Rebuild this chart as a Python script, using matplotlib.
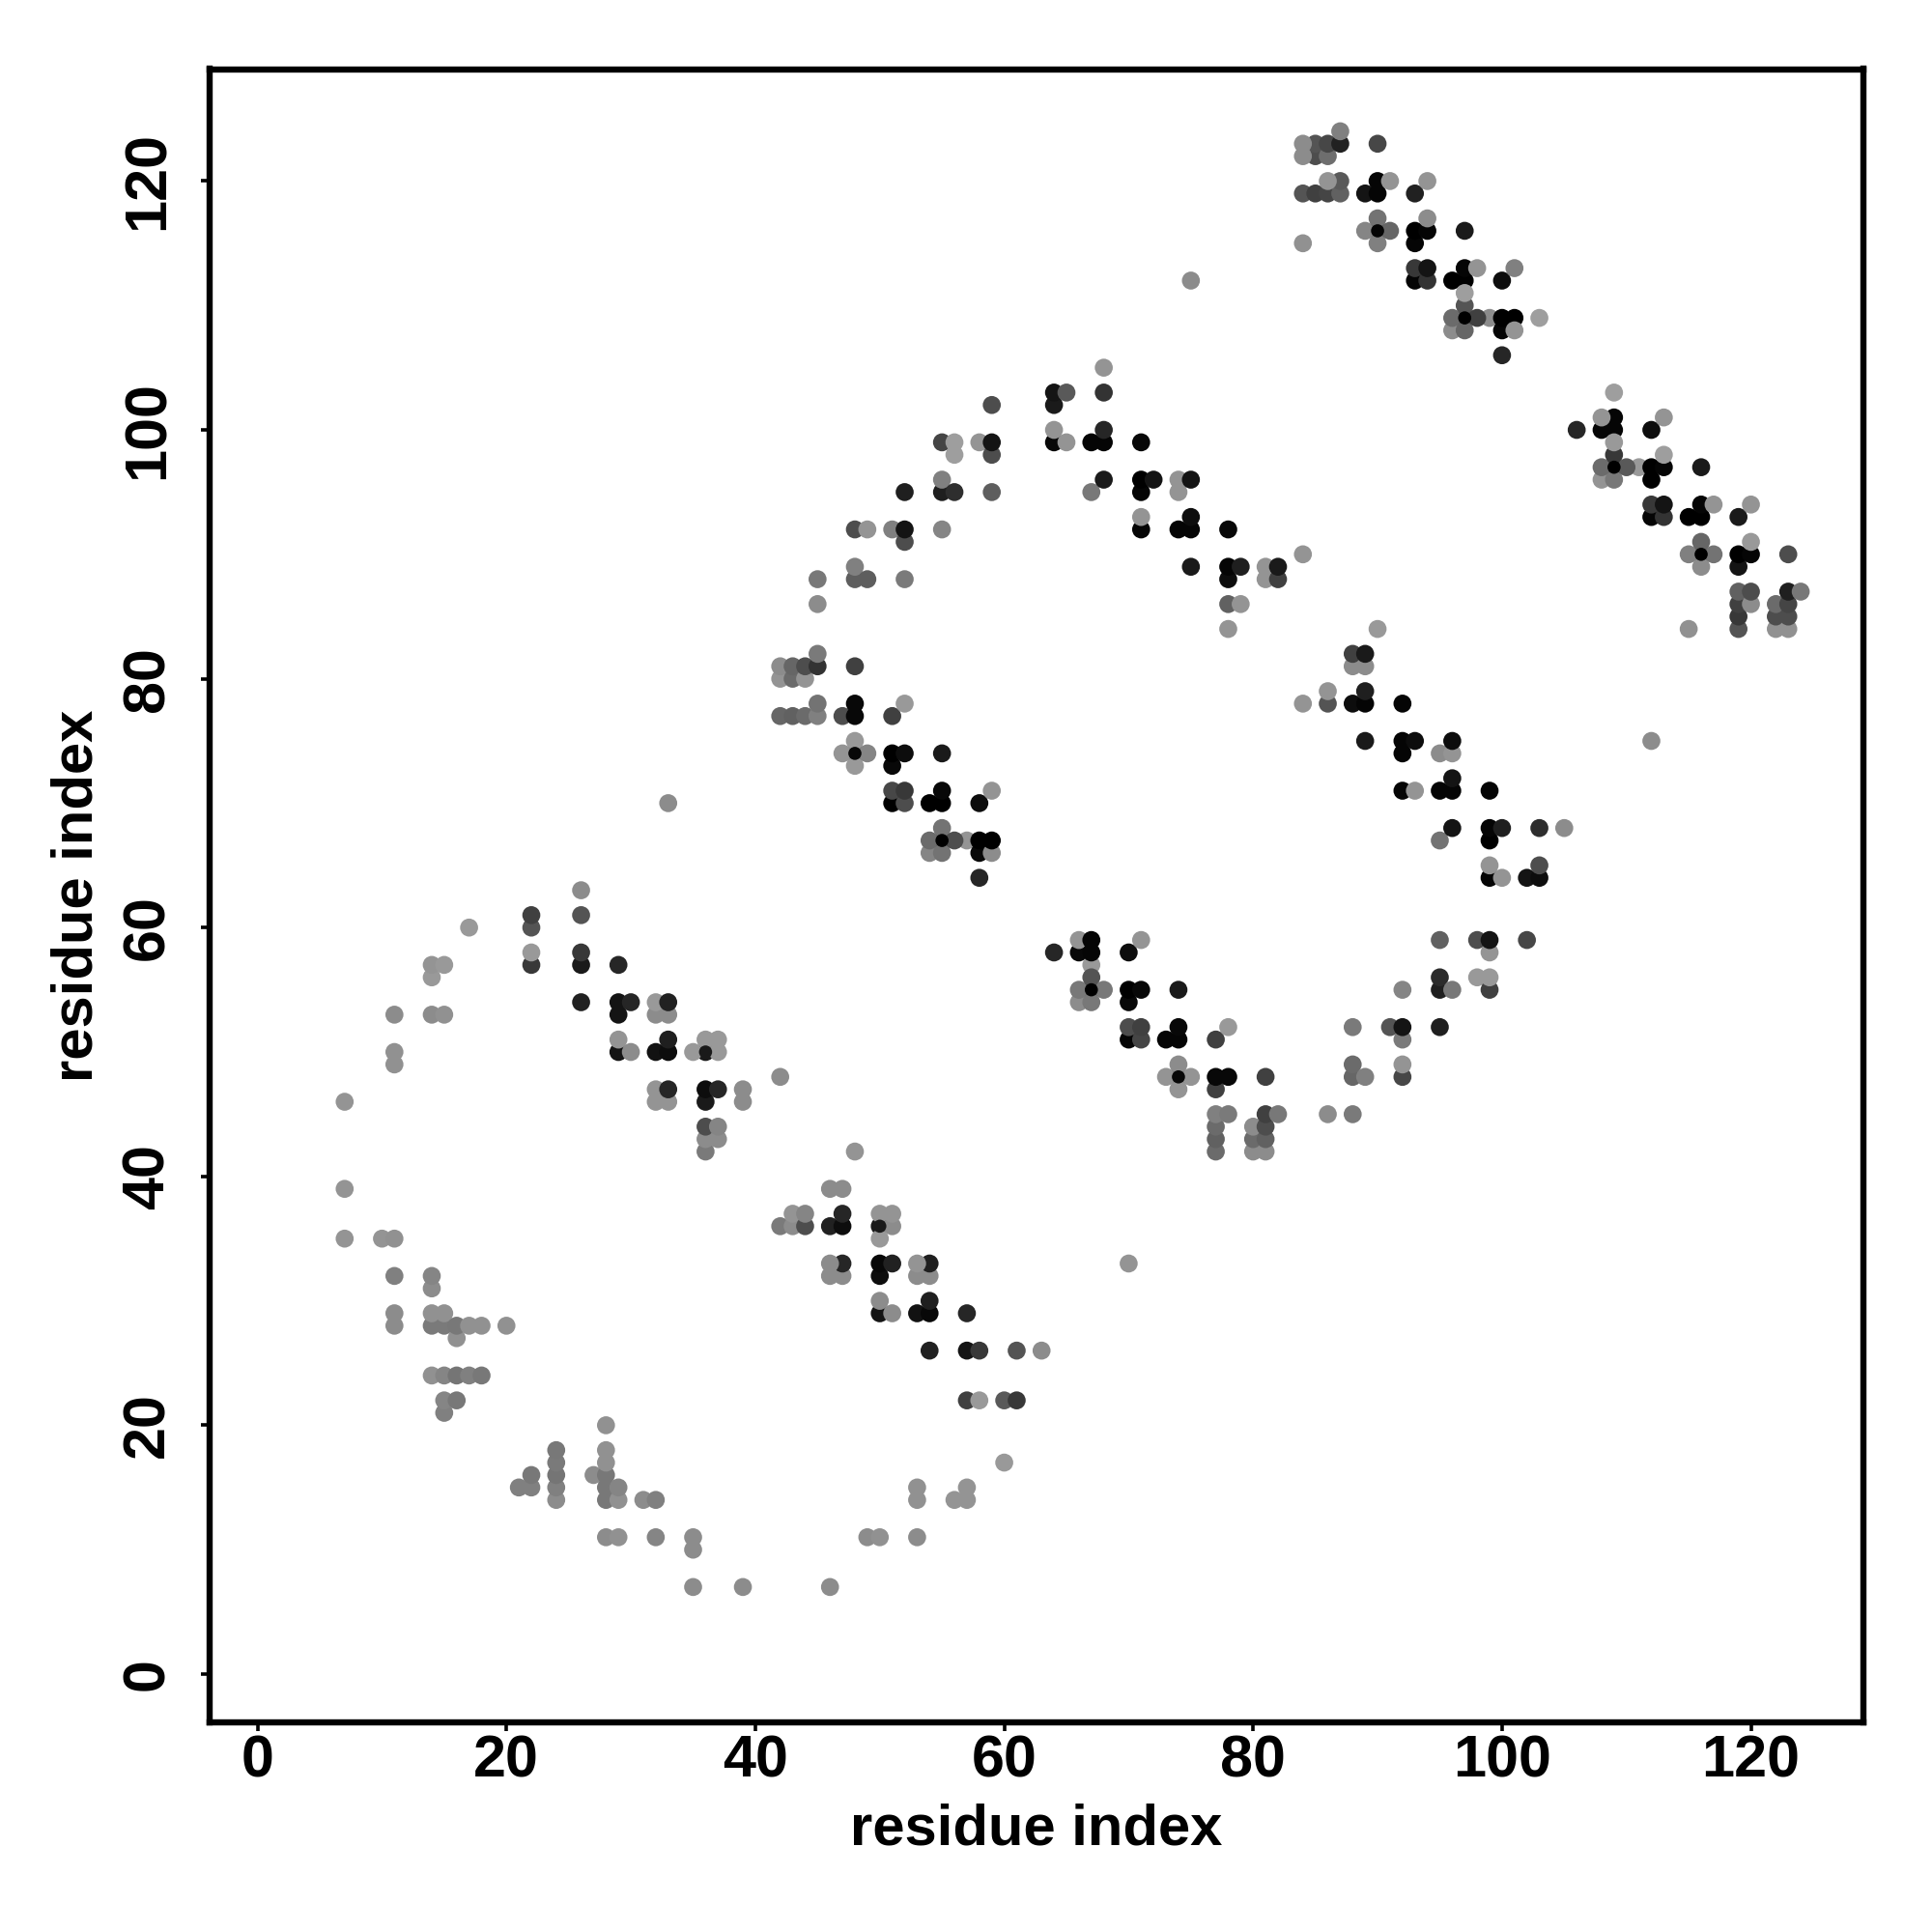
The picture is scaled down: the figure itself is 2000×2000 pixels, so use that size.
# residue contact map, grey level = contact strength

import matplotlib
matplotlib.use('Agg')
import matplotlib.pyplot as plt
import numpy as np

# (residue i, residue j, grey level)
arc_low = [
    (7,46,.58),(7,39,.58),(7,35,.58),(10,35,.58),(11,35,.57),(11,32,.5),(11,29,.55),(11,28,.55),
    (14,32,.52),(14,31,.55),(14,29,.57),(15,29,.57),(14,28,.48),(15,28,.48),(16,28,.47),(17,28,.57),
    (18,28,.57),(20,28,.57),(16,27,.57),(14,24,.57),(15,24,.52),(16,24,.46),(17,24,.5),(18,24,.47),
    (15,22,.52),(16,22,.47),(15,21,.5),(28,20,.57),(24,18,.47),(24,17,.48),(24,16,.46),(24,15,.5),
    (24,14,.55),(22,16,.47),(21,15,.5),(22,15,.5),(28,18,.57),(28,17,.57),(28,16,.47),(27,16,.55),
    (28,15,.47),(28,14,.47),(29,15,.52),(29,14,.57),(31,14,.55),(32,14,.5),(28,11,.55),(29,11,.57),
    (32,11,.52),(35,11,.55),(35,10,.55),(35,7,.55),(39,7,.55),(46,7,.55),(33,70,.55),
]
arc_upper_left = [
    (26,63,.55),(26,61,.33),(22,61,.25),(22,60,.33),(17,60,.6),(14,57,.58),(15,57,.6),(14,56,.6),
    (11,53,.55),(14,53,.55),(15,53,.57),(11,50,.57),(11,49,.57),
]
band_a = [
    (26,58,.22),(26,57,.1),(22,58,.6),(22,57,.22),(29,57,.15),(26,54,.13),(29,54,.08),(29,53,.08),
    (30,54,.15),(33,54,.13),(32,54,.6),(32,53,.55),(33,53,.55),(29,51,.58),(29,50,.08),(30,50,.55),
    (32,50,.07),(33,50,.05),(33,51,.12),(35,50,.6),(36,50,.1),(36,51,.6),(37,51,.6),(37,50,.6),
    (42,48,.55),(32,47,.58),(33,47,.15),(32,46,.58),(33,46,.58),(36,47,.05),(37,47,.15),(36,46,.1),
    (39,47,.55),(39,46,.55),(36,44,.3),(37,44,.52),(36,43,.55),(37,43,.55),(36,42,.48),
]
band_b = [
    (48,42,.58),(46,39,.55),(47,39,.55),(43,37,.58),(44,37,.52),(42,36,.48),(43,36,.55),(44,36,.3),
    (46,36,.13),(47,36,.05),(47,37,.15),(50,36,.1),(51,36,.55),(50,37,.58),(51,37,.58),(50,35,.6),
    (46,33,.55),(47,33,.15),(50,33,.03),(51,33,.13),(50,32,.05),(46,32,.55),(47,32,.55),(53,33,.58),
    (54,33,.12),(53,32,.55),(54,32,.55),(50,30,.55),(54,30,.12),(50,29,.08),(51,29,.55),(53,29,.07),
    (54,29,.03),(57,29,.15),(54,26,.13),(57,26,.08),(58,26,.22),(61,26,.33),(63,26,.55),(57,22,.25),
    (58,22,.6),(60,22,.35),(61,22,.22),(60,17,.6),(53,15,.57),(53,14,.57),(57,15,.58),(56,14,.58),
    (57,14,.58),(49,11,.55),(50,11,.57),(53,11,.55),
]
band_c = [
    (45,82,.48),(42,81,.55),(43,81,.4),(44,81,.3),(45,81,.2),(48,81,.25),(42,80,.58),(43,80,.42),
    (44,80,.58),(45,78,.45),(48,78,.03),(52,78,.6),(42,77,.4),(43,77,.38),(44,77,.42),(45,77,.5),
    (47,77,.3),(48,77,.03),(51,77,.25),(48,75,.6),(47,74,.58),(48,74,.03),(49,74,.52),(51,74,.0),
    (52,74,.05),(55,74,.1),(48,73,.6),(51,73,.03),(51,71,.28),(52,71,.22),(55,71,.03),(59,71,.58),
    (51,70,.0),(52,70,.3),(54,70,.0),(55,70,.0),(58,70,.05),(55,68,.45),(54,67,.42),(55,67,.0),
    (56,67,.3),(57,67,.58),(58,67,.0),(59,67,.0),(54,66,.52),(55,66,.45),(58,66,.03),(59,66,.55),
    (58,64,.15),
]
arc_mid = [
    (59,102,.3),(55,99,.27),(56,99,.62),(58,99,.58),(59,99,.08),(59,98,.3),(56,98,.62),(55,96,.5),
    (55,95,.12),(56,95,.18),(59,95,.37),(52,95,.12),(48,92,.3),(49,92,.58),(51,92,.5),(52,92,.08),
    (52,91,.3),(55,92,.52),(48,89,.5),(48,88,.37),(49,88,.37),(52,88,.48),(45,88,.47),(45,86,.55),
]
band_d = [
    (68,105,.58),(64,103,.08),(65,103,.35),(68,103,.2),(64,102,.1),(64,100,.58),(65,99,.58),(64,99,.03),
    (67,99,.02),(68,99,.02),(68,100,.15),(71,99,.03),(68,96,.1),(67,95,.47),(71,96,.0),(72,96,.08),
    (71,95,.02),(74,96,.58),(75,96,.08),(74,95,.58),(71,93,.58),(71,92,.02),(74,92,.02),(75,92,.02),
    (75,93,.05),(78,92,.03),(75,89,.1),(78,89,.02),(79,89,.12),(78,88,.05),(81,89,.58),(82,89,.1),
    (81,88,.58),(82,88,.25),(84,90,.58),(78,86,.38),(79,86,.58),(78,84,.58),(75,112,.55),
]
band_e = [
    (87,124,.5),(84,123,.55),(85,123,.33),(86,123,.28),(87,123,.13),(90,123,.28),(84,122,.55),(85,122,.3),
    (86,122,.43),(86,120,.58),(87,120,.35),(90,120,.02),(91,120,.58),(94,120,.58),(84,119,.33),(85,119,.25),
    (86,119,.27),(87,119,.38),(89,119,.08),(90,119,.02),(93,119,.13),(90,117,.45),(94,117,.55),(89,116,.52),
    (90,116,.02),(91,116,.4),(93,116,.0),(94,116,.02),(97,116,.1),(84,115,.57),(90,115,.5),(93,115,.02),
    (93,113,.22),(94,113,.08),(97,113,.02),(98,113,.58),(101,113,.5),(93,112,.02),(94,112,.2),(96,112,.0),
    (97,112,.0),(100,112,.05),(97,111,.62),(97,110,.33),(96,109,.42),(97,109,.0),(98,109,.25),(99,109,.55),
    (100,109,.0),(101,109,.0),(103,109,.62),(96,108,.55),(97,108,.4),(100,108,.02),(101,108,.58),(100,106,.15),
]
band_f = [
    (109,103,.62),(108,101,.58),(109,101,.02),(113,101,.58),(106,100,.15),(108,100,.02),(109,100,.02),(112,100,.05),
    (109,99,.6),(113,98,.62),(109,98,.22),(108,97,.42),(109,97,.0),(110,97,.35),(111,97,.6),(112,97,.0),
    (113,97,.02),(116,97,.1),(108,96,.58),(109,96,.47),(112,96,.0),(112,94,.22),(113,94,.08),(116,94,.02),
    (117,94,.58),(120,94,.58),(112,93,.02),(113,93,.2),(115,93,.0),(116,93,.0),(119,93,.1),(116,91,.4),
    (115,90,.5),(116,90,.0),(117,90,.45),(119,90,.0),(120,90,.02),(123,90,.3),(120,91,.6),(116,89,.55),
    (119,89,.08),(119,87,.38),(120,87,.3),(123,87,.12),(124,87,.47),(119,86,.25),(120,86,.55),(122,86,.42),
    (123,86,.27),(119,85,.22),(122,85,.3),(123,85,.3),(115,84,.57),(119,84,.33),(122,84,.57),(123,84,.57),
    (112,75,.55),
]
band_g = [
    (90,84,.6),(88,82,.25),(89,82,.1),(88,81,.55),(89,81,.55),(86,79,.58),(89,79,.12),(84,78,.58),
    (86,78,.33),(88,78,.05),(89,78,.02),(92,78,.02),(89,75,.1),(92,75,.02),(93,75,.05),(96,75,.05),
    (95,74,.55),(96,74,.58),(92,74,.02),(96,72,.08),(92,71,.02),(93,71,.58),(95,71,.02),(96,71,.02),
    (99,71,.02),(96,68,.08),(95,67,.45),(99,68,.02),(100,68,.12),(103,68,.18),(105,68,.55),(99,67,.0),
    (99,65,.58),(103,65,.3),(100,64,.58),(99,64,.02),(102,64,.08),(103,64,.05),
]
arc_right = [
    (95,59,.38),(98,59,.3),(99,59,.08),(102,59,.28),(99,58,.58),(95,56,.17),(98,56,.6),(99,56,.6),
    (92,55,.52),(95,55,.12),(96,55,.47),(99,55,.25),(88,52,.48),(91,52,.33),(92,52,.08),(95,52,.12),
    (92,51,.48),(88,49,.42),(92,49,.58),(88,48,.4),(89,48,.5),(92,48,.28),(86,45,.55),(88,45,.48),
]
band_h = [
    (66,59,.58),(67,59,.02),(71,59,.58),(64,58,.15),(66,58,.03),(67,58,.02),(70,58,.05),(67,57,.6),
    (67,56,.33),(66,55,.47),(67,55,.0),(68,55,.47),(70,55,.0),(71,55,.03),(74,55,.1),(70,54,.03),
    (66,54,.55),(67,54,.47),(70,52,.3),(71,52,.25),(74,52,.03),(70,51,.02),(71,51,.27),(73,51,.02),
    (74,51,.02),(77,51,.25),(78,52,.6),(74,49,.55),(73,48,.58),(74,48,.03),(75,48,.58),(74,47,.58),
    (77,48,.03),(78,48,.03),(77,47,.25),(81,48,.25),(77,45,.5),(78,45,.48),(81,45,.25),(82,45,.47),
    (77,44,.42),(80,44,.55),(81,44,.3),(77,43,.38),(80,43,.42),(81,43,.38),(77,42,.42),(80,42,.55),
    (81,42,.55),(70,33,.58),
]
# light points that sit over a darker neighbour in the picture
drawn_last = [
    (47,74),(49,74),(48,75),(48,73),(89,116),(91,116),(90,117),(90,115),(115,90),(117,90),(116,91),(116,89),
    (66,55),(68,55),(67,56),(67,54),(73,48),(75,48),(74,49),(74,47),(54,67),(56,67),(55,68),(55,66),
    (96,109),(98,109),(97,110),(97,108),(108,97),(110,97),(109,98),(109,96),(22,58),(50,35),(64,100),(71,93),
    (84,122),(84,123),(86,120),(29,51),(36,51),(35,50),(50,37),(51,37),(46,33),(53,33),(50,30),
    (120,91),(117,94),(113,98),(113,101),(108,101),(109,99),(91,120),(101,108),(98,113),(97,111),
]
# dark points ringed by lighter ones, their middle stays visible
ringed = [(48,74),(55,67),(90,116),(97,109),(116,90),(109,97),(67,55),(74,48),(36,50),(50,36)]
tick_values = [0, 20, 40, 60, 80, 100, 120]

points = (arc_low + arc_upper_left + band_a + band_b + band_c + arc_mid + band_d
          + band_e + band_f + band_g + arc_right + band_h)
points = sorted(points, key=lambda p: (p[0], p[1]))
points = [p for p in points if (p[0], p[1]) not in drawn_last] + \
         [p for p in points if (p[0], p[1]) in drawn_last]
res_i = np.array([p[0] for p in points])
res_j = np.array([p[1] for p in points])
shade = [str(p[2]) for p in points]
ring_pts = [p for p in points if (p[0], p[1]) in ringed]

plt.rcParams['font.family'] = ['Liberation Sans', 'DejaVu Sans']
plt.rcParams['font.weight'] = 'bold'

fig = plt.figure(figsize=(10, 10), dpi=200)
ax = fig.add_axes([217 / 2000, 1 - 1783 / 2000, 1711.5 / 2000, 1711.5 / 2000])
ax.scatter(res_i, res_j, c=shade, s=45, linewidths=0, zorder=3)
ax.scatter([p[0] for p in ring_pts], [p[1] for p in ring_pts], c=[str(p[2]) for p in ring_pts],
           s=24, linewidths=0, zorder=4)

ax.set_xlim(-3.85, 129)
ax.set_ylim(-3.88, 129)
ax.set_xticks(tick_values)
ax.set_yticks(tick_values)
ax.tick_params(length=3.4, width=1.3, labelsize=22)
ax.tick_params(axis='x', pad=1)
ax.tick_params(axis='y', pad=9)
for lab in ax.get_yticklabels():
    lab.set_rotation(90)
    lab.set_va('center')
for side in ax.spines.values():
    side.set_linewidth(2.3)

ax.set_xlabel('residue index', fontsize=21.5, fontweight='bold', va='center')
ax.set_ylabel('residue index', fontsize=21.5, fontweight='bold', va='center')
ax.xaxis.set_label_coords(0.5, -0.065)
ax.yaxis.set_label_coords(-0.08, 0.5)

plt.savefig('out.png', dpi=200)
